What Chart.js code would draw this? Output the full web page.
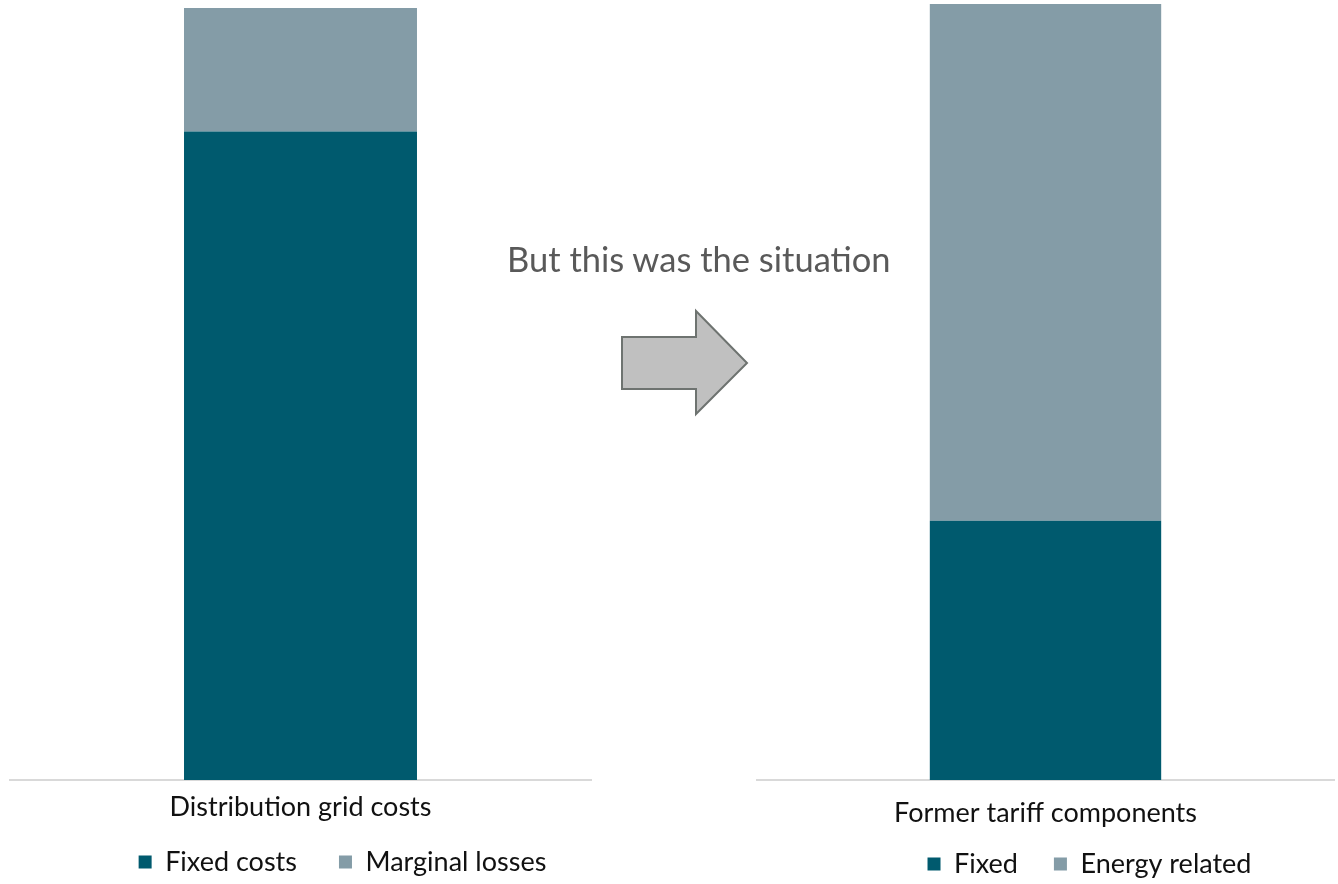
<!DOCTYPE html>
<html>
<head>
<meta charset="utf-8">
<script src="https://cdn.jsdelivr.net/npm/chart.js@4/dist/chart.umd.min.js"></script>
<style>
  body { margin: 0; background: #fff; width: 1338px; height: 884px; position: relative; overflow: hidden; }
  .box { position: absolute; top: 0; height: 884px; }
  #leftBox { left: 0; width: 600px; }
  #rightBox { left: 748px; width: 590px; }
  #caption { position: absolute; left: 507px; top: 238px; font-family: Lato, sans-serif; font-size: 34.5px; line-height: 41px; color: #595959; white-space: nowrap; }
  #arrow { position: absolute; left: 610px; top: 300px; }
</style>
</head>
<body>
<div class="box" id="leftBox"><canvas id="leftChart"></canvas></div>
<div class="box" id="rightBox"><canvas id="rightChart"></canvas></div>
<div id="caption">But this was the situation</div>
<svg id="arrow" width="150" height="125">
  <polygon points="12,37 86,37 86,11 137,63 86,114 86,89 12,89" fill="#c0c0c0" stroke="#6e7370" stroke-width="2"/>
</svg>
<script>
var leftCategories = ["Distribution grid costs"];
var leftFixed = [84];
var leftMarginal = [16];

var rightCategories = ["Former tariff components"];
var rightFixed = [33.4];
var rightEnergy = [66.6];

var darkTeal = "#005a6e";
var greyBlue = "#849ca7";
var fontName = "Lato, 'Open Sans', sans-serif";
var fontSize = 27;

// legend: keep the wide gap between items but put the row where it sits in the picture
var legendTweak = {
    id: 'legendTweak',
    beforeInit: function(chart) {
        var lg = chart.legend;
        var origFit = lg.fit;
        lg.fit = function() {
            origFit.call(this);
            this.height = chart.options.plugins.legendTweak.height;
        };
    },
    afterLayout: function(chart) {
        var o = chart.options.plugins.legendTweak;
        var lg = chart.legend;
        var pad = lg.options.labels.padding;
        var dy = o.centerY - (lg.top + pad + fontSize / 2);
        lg.top += dy;
        lg.bottom = chart.height;
        lg.left += o.shiftX;
        lg.right += o.shiftX;
    }
};

function makeChart(ctx, cats, s1, s2, names, pad, tickPad, tweak) {
    return new Chart(ctx, {
        type: 'bar',
        data: {
            labels: cats,
            datasets: [{
                    label: names[0],
                    data: s1,
                    backgroundColor: darkTeal,
                    barPercentage: 1,
                    categoryPercentage: 0.401
                },
                {
                    label: names[1],
                    data: s2,
                    backgroundColor: greyBlue,
                    barPercentage: 1,
                    categoryPercentage: 0.401
                }
            ]
        },
        plugins: [legendTweak],
        options: {
            responsive: true,
            maintainAspectRatio: false,
            animation: false,
            layout: { padding: pad },
            plugins: {
                tooltip: { enabled: false },
                legendTweak: tweak,
                legend: {
                    position: 'bottom',
                    labels: {
                        font: { family: fontName, size: fontSize },
                        color: '#111',
                        boxWidth: 13,
                        boxHeight: 13,
                        padding: tweak.gap
                    }
                }
            },
            scales: {
                x: {
                    stacked: true,
                    grid: { display: false, drawTicks: false },
                    border: { color: '#d9d9d9', width: 2 },
                    ticks: { font: { family: fontName, size: fontSize }, color: '#111', padding: tickPad }
                },
                y: {
                    stacked: true,
                    display: false,
                    min: 0,
                    max: 100
                }
            }
        }
    });
}

var leftChart = makeChart(document.getElementById('leftChart').getContext('2d'),
    leftCategories, leftFixed, leftMarginal, ["Fixed costs", "Marginal losses"],
    { left: 10, right: 9, top: 8, bottom: 0 }, 11,
    { height: 49.6, centerY: 862, shiftX: 42, gap: 42 });

var rightChart = makeChart(document.getElementById('rightChart').getContext('2d'),
    rightCategories, rightFixed, rightEnergy, ["Fixed", "Energy related"],
    { left: 9, right: 4, top: 4, bottom: 0 }, 17,
    { height: 37.6, centerY: 864, shiftX: 44, gap: 36 });
</script>
</body>
</html>
